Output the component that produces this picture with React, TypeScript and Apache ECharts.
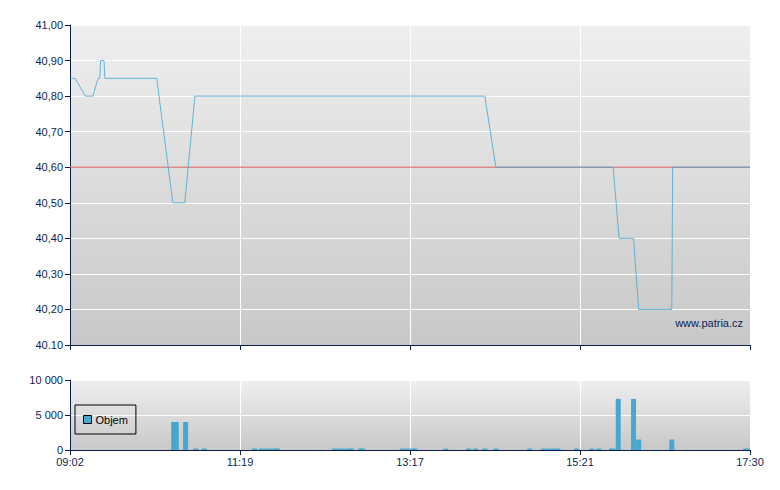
import { useEffect, useRef } from "react";
import * as echarts from "echarts";

// x is a trade-slot index (0..400), ticks every 100 slots
const timeLabels = ["09:02", "11:19", "13:17", "15:21", "17:30"];
const priceLabels = ["40.10", "40,20", "40,30", "40,40", "40,50", "40,60", "40,70", "40,80", "40,90", "41,00"];
const volumeLabels = ["0", "5 000", "10 000"];

const prevClose = 40.6;

const priceSlots = [0, 3, 9, 13.5, 16.5, 17.5, 18, 20, 20.5, 51, 60.5, 67.5, 73.5, 244, 250.5, 319.5, 323, 331.5, 334.5, 354, 354.5, 400];
const prices = [40.85, 40.85, 40.8, 40.8, 40.85, 40.85, 40.9, 40.9, 40.85, 40.85, 40.5, 40.5, 40.8, 40.8, 40.6, 40.6, 40.4, 40.4, 40.2, 40.2, 40.6, 40.6];

const volumeSlots = [
  61, 62.5, 68, 74, 79, 108.5, 112.5, 115.5, 118.5, 121.5, 122, 155.5, 158.5, 161.5, 164.5, 165.5, 171, 172,
  195.5, 198.5, 201.5, 203, 221, 234.5, 238.5, 244, 250.5, 270.5, 278.5, 281.5, 284.5, 287, 298, 307, 311,
  318.5, 319.5, 322.5, 331.5, 334.5, 354, 397.5, 398.5,
];
const volumes = [
  4000, 4000, 4000, 200, 200, 200, 200, 200, 200, 200, 200, 200, 200, 200, 200, 200, 200, 200,
  200, 200, 200, 200, 200, 200, 200, 200, 200, 200, 200, 200, 200, 200, 200, 200, 200,
  200, 200, 7300, 7300, 1500, 1500, 200, 200,
];

const navy = "#0b1f4f";
const bgGradient = () =>
  new echarts.graphic.LinearGradient(0, 0, 0, 1, [
    { offset: 0, color: "#efefef" },
    { offset: 1, color: "#c8c8c8" },
  ]);

export default function App() {
  const chartRef = useRef<HTMLDivElement>(null);

  useEffect(() => {
    if (!chartRef.current) return;
    const chart = echarts.init(chartRef.current, null, { renderer: "svg" });

    const axisText = { color: navy, fontSize: 11, fontFamily: "Liberation Sans, Arial, sans-serif" };
    const xBase = {
      type: "value",
      min: 0,
      max: 400,
      interval: 100,
      axisLine: { show: true, lineStyle: { color: navy, width: 1 } },
      axisTick: { show: true, length: 5, lineStyle: { color: navy } },
      splitLine: { show: true, lineStyle: { color: "#ffffff", width: 1 } },
    };

    chart.setOption({
      animation: false,
      backgroundColor: "#ffffff",
      grid: [
        { left: 70, right: 30, top: 25, height: 320, show: true, borderWidth: 0, backgroundColor: bgGradient() },
        { left: 70, right: 30, top: 380, height: 70, show: true, borderWidth: 0, backgroundColor: bgGradient() },
      ],
      xAxis: [
        { ...xBase, gridIndex: 0, axisLabel: { show: false } },
        {
          ...xBase,
          gridIndex: 1,
          axisLabel: { ...axisText, margin: 6, formatter: (v: number) => timeLabels[Math.round(v / 100)] },
        },
      ],
      yAxis: [
        {
          type: "value",
          gridIndex: 0,
          min: 40.1,
          max: 41.0,
          interval: 0.1,
          axisLine: { show: true, lineStyle: { color: navy, width: 1 } },
          axisTick: { show: true, length: 5, lineStyle: { color: navy } },
          axisLabel: { ...axisText, margin: 7, formatter: (v: number) => priceLabels[Math.round((v - 40.1) / 0.1)] },
          splitLine: { show: true, lineStyle: { color: "#ffffff", width: 1 } },
        },
        {
          type: "value",
          gridIndex: 1,
          min: 0,
          max: 10000,
          interval: 5000,
          axisLine: { show: true, lineStyle: { color: navy, width: 1 } },
          axisTick: { show: true, length: 5, lineStyle: { color: navy } },
          axisLabel: { ...axisText, margin: 7, formatter: (v: number) => volumeLabels[Math.round(v / 5000)] },
          splitLine: { show: true, lineStyle: { color: "#ffffff", width: 1 } },
        },
      ],
      legend: {
        data: [{ name: "Objem", icon: "rect" }],
        left: 75,
        top: 405,
        orient: "vertical",
        padding: [9, 8, 9, 8],
        itemWidth: 8,
        itemHeight: 8,
        itemGap: 0,
        borderColor: "#000000",
        borderWidth: 1,
        itemStyle: { borderColor: "#000000", borderWidth: 1 },
        textStyle: { color: "#000000", fontSize: 11, fontFamily: "Liberation Sans, Arial, sans-serif", padding: [0, 0, 0, -1] },
        selectedMode: false,
      },
      graphic: [
        {
          type: "text",
          right: 37,
          top: 317,
          style: { text: "www.patria.cz", fill: navy, fontSize: 11, fontFamily: "Liberation Sans, Arial, sans-serif" },
        },
      ],
      series: [
        {
          type: "line",
          xAxisIndex: 0,
          yAxisIndex: 0,
          data: [
            [0, prevClose],
            [400, prevClose],
          ],
          symbol: "none",
          silent: true,
          lineStyle: { color: "#d65a5c", width: 1, opacity: 1 },
        },
        {
          type: "line",
          name: "Cena",
          xAxisIndex: 0,
          yAxisIndex: 0,
          data: priceSlots.map((s, i) => [s, prices[i]]),
          symbol: "none",
          lineStyle: { color: "#4aaad6", width: 1, opacity: 0.85 },
        },
        {
          type: "bar",
          name: "Objem",
          xAxisIndex: 1,
          yAxisIndex: 1,
          data: volumeSlots.map((s, i) => [s, volumes[i]]),
          barWidth: 5,
          itemStyle: { color: "#47a7d0" },
        },
      ],
    });

    return () => chart.dispose();
  }, []);

  return (
    <div
      ref={chartRef}
      style={{ position: "fixed", left: 0, top: 0, width: 780, height: 490, background: "#fff" }}
    />
  );
}
